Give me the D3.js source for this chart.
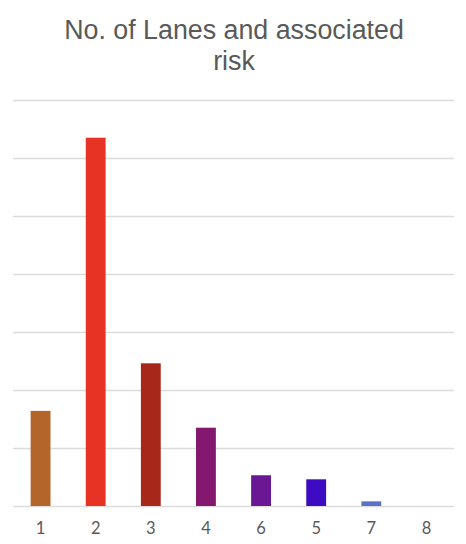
<!DOCTYPE html>
<html>
<head>
<meta charset="utf-8">
<script src="https://cdn.jsdelivr.net/npm/d3@7"></script>
<style>
  html, body { margin: 0; padding: 0; background: #fff; }
  svg { display: block; }
</style>
</head>
<body>
<div id="chart"></div>
<script>
// Number of lanes and the associated risk, in the order the categories are shown
const lanes = ["1", "2", "3", "4", "6", "5", "7", "8"];
const risk = [164, 635, 246, 135, 53, 46, 8, 0];
const barColors = ["#b4652a", "#e63323", "#a8271b", "#84186f", "#6a1794", "#3d0bc2", "#5a72c8", "#cccccc"];
const yTicks = [0, 100, 200, 300, 400, 500, 600, 700];
const titleLines = ["No. of Lanes and associated", "risk"];

const width = 466, height = 544;
const margin = { top: 100, right: 12, bottom: 38, left: 13 };

const svg = d3.select("#chart").append("svg")
  .attr("width", width)
  .attr("height", height);

const x = d3.scaleBand()
  .domain(lanes)
  .range([margin.left, width - margin.right])
  .paddingInner(0.64)
  .paddingOuter(0.32);

const y = d3.scaleLinear()
  .domain([0, 700])
  .range([height - margin.bottom, margin.top]);

// Title
svg.append("g")
  .selectAll("text")
  .data(titleLines)
  .join("text")
  .attr("x", width / 2 + 1)
  .attr("y", (d, i) => 39 + i * 31)
  .attr("text-anchor", "middle")
  .attr("font-family", "'Liberation Sans', Arial, Helvetica, sans-serif")
  .attr("font-size", 26.8)
  .attr("fill", "#595959")
  .text(d => d);

// Horizontal gridlines
const yAxis = d3.axisLeft(y)
  .tickValues(yTicks)
  .tickSize(-(width - margin.left - margin.right))
  .tickFormat("");

svg.append("g")
  .attr("transform", `translate(${margin.left},0)`)
  .call(yAxis)
  .call(g => g.select(".domain").remove())
  .call(g => g.selectAll(".tick line")
    .attr("stroke", "#dcdcdc")
    .attr("stroke-width", 1.5));

// Bars
svg.append("g")
  .selectAll("rect")
  .data(risk)
  .join("rect")
  .attr("x", (d, i) => x(lanes[i]))
  .attr("y", d => y(d))
  .attr("width", x.bandwidth())
  .attr("height", d => y(0) - y(d))
  .attr("fill", (d, i) => barColors[i]);

// Category axis
const xAxis = d3.axisBottom(x).tickSize(0).tickPadding(16);

svg.append("g")
  .attr("transform", `translate(0,${y(0)})`)
  .call(xAxis)
  .call(g => g.select(".domain").remove())
  .call(g => g.selectAll(".tick text")
    .attr("font-family", "Lato, 'Open Sans', sans-serif")
    .attr("font-size", 16.5)
    .attr("fill", "#595959"));
</script>
</body>
</html>
